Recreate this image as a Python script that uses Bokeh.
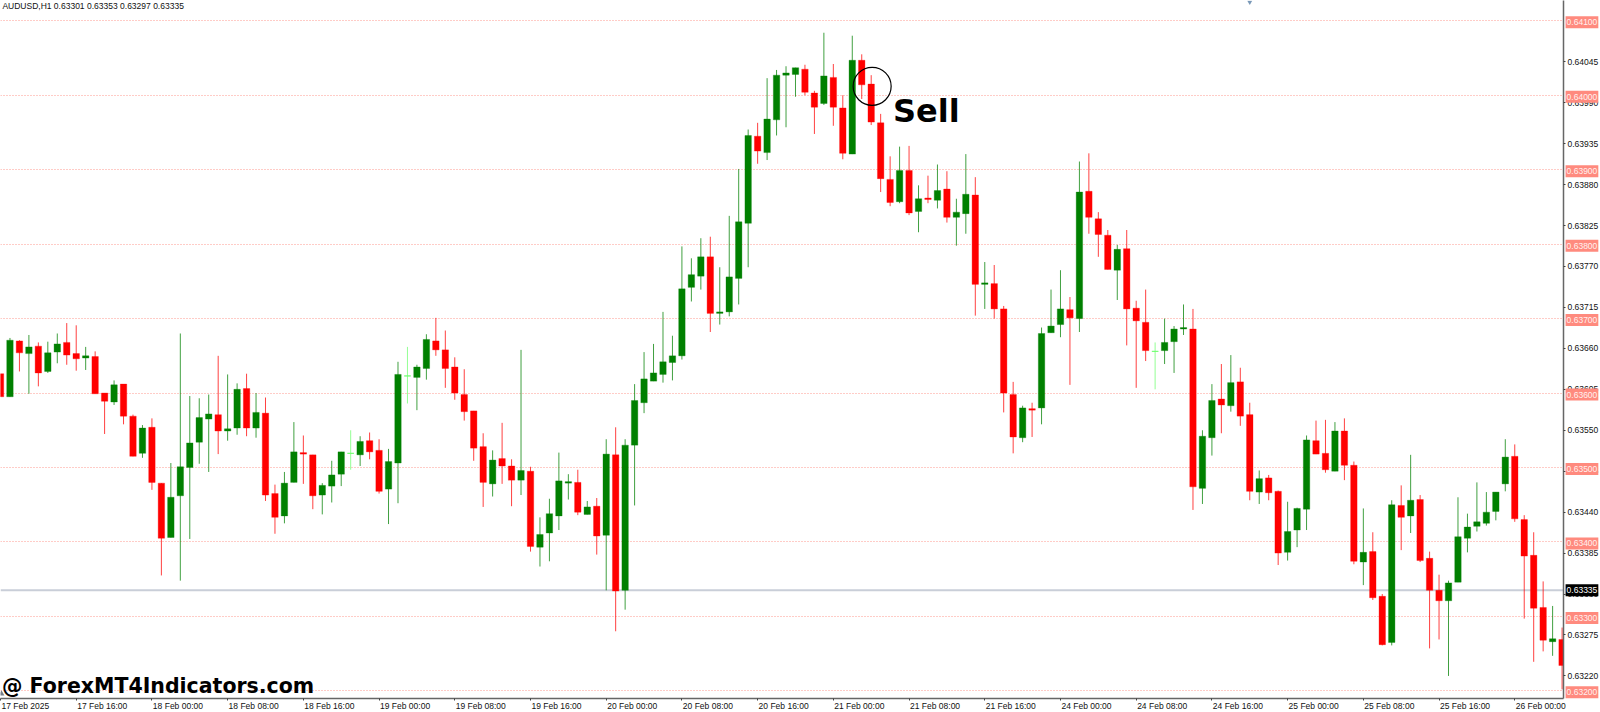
from bokeh.plotting import figure
from bokeh.models import Range1d, FixedTicker, Label, ColumnDataSource
from bokeh.embed import file_html
from bokeh.resources import INLINE

opens = [0.63626,0.63595,0.63670,0.63653,0.63663,0.63629,0.63655,0.63668,0.63653,0.63647,
0.63649,0.63600,0.63588,0.63612,0.63569,0.63519,0.63554,0.63479,0.63406,0.63462,
0.63500,0.63534,0.63565,0.63571,0.63549,0.63553,0.63606,0.63553,0.63573,0.63465,
0.63435,0.63480,0.63520,0.63517,0.63463,0.63475,0.63491,0.63519,0.63517,0.63536,
0.63523,0.63471,0.63506,0.63623,0.63621,0.63633,0.63670,0.63658,0.63635,0.63598,
0.63576,0.63528,0.63478,0.63512,0.63502,0.63483,0.63495,0.63393,0.63412,0.63435,
0.63479,0.63480,0.63437,0.63448,0.63409,0.63517,0.63335,0.63530,0.63587,0.63616,
0.63625,0.63641,0.63650,0.63742,0.63757,0.63783,0.63707,0.63709,0.63754,0.63828,
0.63945,0.63923,0.63967,0.64027,0.64028,0.64035,0.64003,0.63989,0.64024,0.63983,
0.63921,0.64047,0.64015,0.63963,0.63887,0.63857,0.63899,0.63844,0.63862,0.63859,
0.63874,0.63836,0.63841,0.63866,0.63746,0.63747,0.63713,0.63598,0.63540,0.63579,
0.63580,0.63681,0.63692,0.63712,0.63700,0.63871,0.63834,0.63812,0.63765,0.63794,
0.63714,0.63695,0.63656,0.63657,0.63669,0.63686,0.63686,0.63472,0.63540,0.63592,
0.63583,0.63615,0.63571,0.63467,0.63486,0.63468,0.63386,0.63416,0.63444,0.63536,
0.63519,0.63495,0.63549,0.63503,0.63373,0.63387,0.63327,0.63265,0.63449,0.63435,
0.63457,0.63378,0.63335,0.63321,0.63346,0.63405,0.63421,0.63425,0.63441,0.63478,
0.63515,0.63430,0.63382,0.63312,0.63266,0.63269]
highs = [0.63626,0.63674,0.63671,0.63678,0.63668,0.63669,0.63680,0.63694,0.63691,0.63662,
0.63656,0.63600,0.63617,0.63612,0.63571,0.63557,0.63566,0.63479,0.63506,0.63680,
0.63596,0.63593,0.63598,0.63650,0.63625,0.63613,0.63626,0.63600,0.63594,0.63477,
0.63494,0.63561,0.63543,0.63517,0.63479,0.63509,0.63521,0.63550,0.63542,0.63547,
0.63538,0.63525,0.63642,0.63662,0.63638,0.63679,0.63701,0.63684,0.63648,0.63632,
0.63576,0.63546,0.63523,0.63560,0.63511,0.63658,0.63501,0.63433,0.63458,0.63520,
0.63491,0.63497,0.63455,0.63459,0.63538,0.63554,0.63538,0.63612,0.63655,0.63666,
0.63709,0.63677,0.63797,0.63781,0.63808,0.63810,0.63769,0.63838,0.63901,0.63954,
0.63963,0.64023,0.64034,0.64039,0.64037,0.64041,0.64006,0.64084,0.64042,0.64000,
0.64080,0.64055,0.64027,0.63975,0.63918,0.63931,0.63932,0.63879,0.63892,0.63907,
0.63898,0.63861,0.63921,0.63890,0.63776,0.63772,0.63717,0.63615,0.63583,0.63587,
0.63688,0.63739,0.63765,0.63729,0.63911,0.63922,0.63843,0.63819,0.63799,0.63819,
0.63724,0.63739,0.63668,0.63700,0.63690,0.63719,0.63713,0.63550,0.63612,0.63639,
0.63651,0.63634,0.63587,0.63496,0.63490,0.63469,0.63454,0.63446,0.63543,0.63563,
0.63564,0.63561,0.63566,0.63508,0.63445,0.63413,0.63330,0.63456,0.63476,0.63517,
0.63463,0.63387,0.63356,0.63348,0.63460,0.63438,0.63480,0.63467,0.63467,0.63538,
0.63531,0.63436,0.63413,0.63347,0.63314,0.63285]
lows = [0.63595,0.63595,0.63629,0.63599,0.63609,0.63627,0.63640,0.63638,0.63630,0.63631,
0.63599,0.63545,0.63584,0.63558,0.63515,0.63513,0.63470,0.63355,0.63406,0.63348,
0.63404,0.63505,0.63494,0.63518,0.63536,0.63544,0.63542,0.63540,0.63455,0.63411,
0.63425,0.63480,0.63478,0.63444,0.63437,0.63453,0.63475,0.63497,0.63502,0.63511,
0.63465,0.63424,0.63452,0.63586,0.63577,0.63618,0.63650,0.63607,0.63591,0.63563,
0.63509,0.63447,0.63461,0.63478,0.63448,0.63463,0.63387,0.63367,0.63374,0.63416,
0.63457,0.63436,0.63437,0.63383,0.63335,0.63280,0.63309,0.63449,0.63573,0.63616,
0.63614,0.63617,0.63645,0.63723,0.63739,0.63682,0.63692,0.63703,0.63719,0.63769,
0.63908,0.63913,0.63946,0.63957,0.63998,0.64000,0.63948,0.63987,0.63959,0.63914,
0.63921,0.63995,0.63960,0.63870,0.63851,0.63855,0.63839,0.63816,0.63855,0.63848,
0.63829,0.63798,0.63814,0.63704,0.63713,0.63700,0.63574,0.63519,0.63534,0.63541,
0.63558,0.63681,0.63675,0.63611,0.63682,0.63814,0.63783,0.63766,0.63725,0.63664,
0.63607,0.63643,0.63605,0.63639,0.63627,0.63678,0.63443,0.63451,0.63516,0.63546,
0.63575,0.63556,0.63456,0.63451,0.63456,0.63369,0.63375,0.63393,0.63416,0.63518,
0.63493,0.63495,0.63483,0.63370,0.63342,0.63322,0.63261,0.63261,0.63389,0.63412,
0.63373,0.63257,0.63269,0.63220,0.63346,0.63386,0.63414,0.63422,0.63429,0.63468,
0.63427,0.63297,0.63239,0.63253,0.63247,0.63202]
closes = [0.63595,0.63671,0.63654,0.63662,0.63627,0.63654,0.63666,0.63651,0.63646,0.63650,
0.63599,0.63589,0.63611,0.63569,0.63515,0.63553,0.63480,0.63405,0.63460,0.63501,
0.63533,0.63567,0.63572,0.63549,0.63552,0.63605,0.63553,0.63574,0.63463,0.63433,
0.63479,0.63521,0.63518,0.63462,0.63476,0.63490,0.63521,0.63519,0.63535,0.63521,
0.63468,0.63508,0.63625,0.63623,0.63635,0.63672,0.63658,0.63633,0.63600,0.63575,
0.63526,0.63480,0.63510,0.63502,0.63483,0.63496,0.63394,0.63410,0.63438,0.63482,
0.63481,0.63440,0.63447,0.63408,0.63518,0.63334,0.63530,0.63590,0.63619,0.63627,
0.63642,0.63650,0.63740,0.63759,0.63783,0.63707,0.63709,0.63756,0.63830,0.63946,
0.63925,0.63968,0.64027,0.64030,0.64037,0.64004,0.63984,0.64026,0.63984,0.63922,
0.64047,0.64014,0.63964,0.63888,0.63856,0.63899,0.63842,0.63861,0.63860,0.63872,
0.63836,0.63843,0.63867,0.63746,0.63748,0.63713,0.63600,0.63541,0.63580,0.63577,
0.63680,0.63690,0.63713,0.63701,0.63870,0.63836,0.63813,0.63766,0.63793,0.63713,
0.63697,0.63657,0.63656,0.63668,0.63686,0.63688,0.63474,0.63542,0.63590,0.63584,
0.63614,0.63569,0.63468,0.63485,0.63466,0.63385,0.63414,0.63445,0.63537,0.63518,
0.63497,0.63549,0.63503,0.63374,0.63386,0.63325,0.63262,0.63450,0.63433,0.63456,
0.63375,0.63335,0.63321,0.63345,0.63407,0.63420,0.63427,0.63440,0.63467,0.63514,
0.63431,0.63381,0.63311,0.63268,0.63270,0.63234]

red_levels = [0.641,0.640,0.639,0.638,0.637,0.636,0.635,0.634,0.633,0.632]
price_ticks = [0.64045,0.63990,0.63935,0.63880,0.63825,0.63770,0.63715,0.63660,0.63605,
               0.63550,0.63495,0.63440,0.63385,0.63330,0.63275,0.63220]
current_price = 0.63335
time_labels = ["17 Feb 2025","17 Feb 16:00","18 Feb 00:00","18 Feb 08:00","18 Feb 16:00",
               "19 Feb 00:00","19 Feb 08:00","19 Feb 16:00","20 Feb 00:00","20 Feb 08:00",
               "20 Feb 16:00","21 Feb 00:00","21 Feb 08:00","21 Feb 16:00","24 Feb 00:00",
               "24 Feb 08:00","24 Feb 16:00","25 Feb 00:00","25 Feb 08:00","25 Feb 16:00",
               "26 Feb 00:00"]
header = "AUDUSD,H1  0.63301 0.63353 0.63297 0.63335"
watermark = "@ ForexMT4Indicators.com"

AXIS_FONT = "Liberation Sans"
UP, DOWN, FLAT = "#008000", "#ff0000", "#70ff70"
n = len(opens)
x = list(range(n))
colors = [UP if c > o else DOWN if c < o else FLAT for o, c in zip(opens, closes)]
tops = [max(o, c) for o, c in zip(opens, closes)]
bots = [min(o, c) for o, c in zip(opens, closes)]
src = ColumnDataSource(dict(x=x, high=highs, low=lows, top=tops, bot=bots, color=colors))

Y_TOP, Y_BOT = 0.641273, 0.631897
X_END = 165.15
p = figure(frame_width=1563, frame_height=698, x_range=Range1d(0, X_END), y_range=Range1d(Y_BOT, Y_TOP),
           y_axis_location="right", output_backend="svg", toolbar_location=None, tools="",
           min_border_left=0, min_border_top=0, min_border_right=37, min_border_bottom=14,
           background_fill_color="white", border_fill_color="white", outline_line_color=None)

p.xgrid.visible = False
p.ygrid.ticker = FixedTicker(ticks=red_levels)
p.ygrid.grid_line_color = "#ff8f84"
p.ygrid.grid_line_dash = "1 2"
p.ygrid.grid_line_width = 1
p.ygrid.grid_line_alpha = 0.9

yax = p.yaxis[0]
yax.ticker = FixedTicker(ticks=price_ticks)
yax.major_label_overrides = {t: f"{t:.5f}" for t in price_ticks}
yax.major_label_text_font = AXIS_FONT
yax.major_label_text_font_size = "8.5px"
yax.major_label_text_color = "#111111"
yax.major_label_standoff = 2
yax.major_tick_in = 0
yax.major_tick_out = 2
yax.minor_tick_in = yax.minor_tick_out = 0
yax.axis_line_color = "#666666"
yax.axis_line_width = 1.5
yax.major_tick_line_color = "#444444"

xax = p.xaxis[0]
xax.ticker = FixedTicker(ticks=[i * 8 for i in range(len(time_labels))])
xax.major_label_text_color = None
xax.major_label_text_font_size = "8.5px"
xax.major_tick_in = 0
xax.major_tick_out = 2
xax.minor_tick_in = xax.minor_tick_out = 0
xax.axis_line_color = "#666666"
xax.axis_line_width = 1.5
xax.major_tick_line_color = "#444444"

p.segment([0], [current_price], [X_END], [current_price], line_color="#c9ced8", line_width=2)
p.segment("x", "low", "x", "high", source=src, line_color="color", line_width=1, line_alpha=0.75)
p.vbar(x="x", width=0.68, top="top", bottom="bot", source=src, fill_color="color",
       line_color="color", line_width=0.6, line_alpha=0.55)
flat = [i for i in x if colors[i] == FLAT]
p.segment([i - 0.34 for i in flat], [opens[i] for i in flat], [i + 0.34 for i in flat], [opens[i] for i in flat],
          line_color=FLAT, line_width=1)

p.scatter([92.1], [0.64012], marker="circle", size=38, fill_alpha=0, line_color="black", line_width=1.2)
p.scatter([132], [0.64125], marker="inverted_triangle", size=5, fill_color="#7a99b8", line_color=None)
p.scatter([0.1], [0.63196], marker="triangle", size=6, fill_color="#777f8a", line_color=None)


def price_at_pixel(py):
    return Y_TOP - (Y_TOP - Y_BOT) * py / 698


p.add_layout(Label(x=94.3, y=price_at_pixel(110), text="Sell", text_font="DejaVu Sans", text_font_style="bold",
                   text_font_size="32px", text_color="black", text_baseline="middle"))
p.add_layout(Label(x=0.15, y=price_at_pixel(685), text=watermark, text_font="DejaVu Sans", text_font_style="bold",
                   text_font_size="20.5px", text_color="black", text_baseline="middle"))
p.add_layout(Label(x=0.2, y=price_at_pixel(5), text=header, text_font=AXIS_FONT, text_font_size="8.5px",
                   text_color="#111111", text_baseline="middle"))

# annotations placed in a side panel are not clipped to the plot frame
for i, t in enumerate(time_labels):
    p.add_layout(Label(x=i * 8 + 0.1, y=price_at_pixel(705.5), text=t, text_font=AXIS_FONT, text_font_size="8.5px",
                       text_color="#111111", text_baseline="middle", text_align="left"), "below")

LABEL_DROP = 0.00002
for lv in red_levels:
    p.add_layout(Label(x=167.1, y=lv - LABEL_DROP, text=f"{lv:.5f}", text_font=AXIS_FONT, text_font_size="8.5px",
                       text_color="#fff0ee", text_baseline="middle", text_align="center",
                       background_fill_color="#ff8a7e", padding=(1, 3)), "right")
p.add_layout(Label(x=167.1, y=current_price, text=f"{current_price:.5f}", text_font=AXIS_FONT, text_font_size="8.5px",
                   text_color="white", text_baseline="middle", text_align="center",
                   background_fill_color="black", padding=(1, 3)), "right")

open("out.html", "w").write(file_html(p, INLINE))
